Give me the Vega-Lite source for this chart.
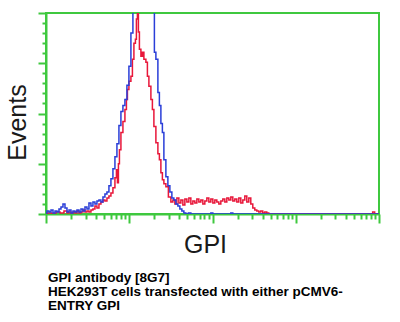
{
  "$schema": "https://vega.github.io/schema/vega-lite/v6.json",
  "width": 333,
  "height": 201,
  "autosize": {"type": "none"},
  "padding": {"left": 46, "top": 13, "right": 21, "bottom": 108},
  "background": "white",
  "view": {"stroke": "#3fc83f", "strokeWidth": 2},
  "config": {
    "font": "Liberation Sans",
    "axis": {"domainColor": "#3fc83f", "domainWidth": 2, "tickColor": "#3fc83f", "tickWidth": 2, "labels": false, "grid": false, "titleFont": "Liberation Sans", "titleFontWeight": "normal", "titleFontSize": 25, "titleColor": "#1a1a1a"}
  },
  "title": {
    "text": ["GPI antibody [8G7]", "HEK293T cells transfected with either pCMV6-", "ENTRY GPI"],
    "orient": "bottom",
    "anchor": "start",
    "frame": "group",
    "dx": 2,
    "offset": 14,
    "font": "Liberation Sans",
    "fontSize": 13.5,
    "fontWeight": "bold",
    "lineHeight": 14,
    "color": "#000000"
  },
  "datasets": {
    "control": [
      {"channel":0,"events":1},{"channel":6,"events":3},{"channel":12,"events":2},{"channel":18,"events":4},{"channel":24,"events":1},{"channel":30,"events":3},{"channel":36,"events":2},{"channel":42,"events":5},{"channel":48,"events":7},{"channel":54,"events":10},{"channel":60,"events":6},{"channel":66,"events":2},{"channel":72,"events":4},{"channel":78,"events":1},{"channel":84,"events":3},{"channel":90,"events":2},{"channel":96,"events":4},{"channel":102,"events":2},{"channel":108,"events":5},{"channel":114,"events":3},{"channel":120,"events":7},{"channel":126,"events":5},{"channel":132,"events":11},{"channel":138,"events":8},{"channel":144,"events":12},{"channel":150,"events":10},{"channel":156,"events":13},{"channel":162,"events":14},{"channel":168,"events":12},{"channel":174,"events":17},{"channel":180,"events":20},{"channel":186,"events":22},{"channel":192,"events":28},{"channel":198,"events":35},{"channel":204,"events":45},{"channel":210,"events":57},{"channel":216,"events":70},{"channel":222,"events":88},{"channel":228,"events":102},{"channel":234,"events":108},{"channel":240,"events":114},{"channel":246,"events":128},{"channel":252,"events":147},{"channel":258,"events":180},{"channel":264,"events":215},{"channel":270,"events":250},{"channel":276,"events":270},{"channel":282,"events":285},{"channel":288,"events":295},{"channel":294,"events":300},{"channel":300,"events":290},{"channel":306,"events":280},{"channel":312,"events":270},{"channel":318,"events":260},{"channel":324,"events":250},{"channel":327,"events":161},{"channel":333,"events":154},{"channel":339,"events":121},{"channel":342,"events":108},{"channel":348,"events":90},{"channel":351,"events":81},{"channel":357,"events":54},{"channel":363,"events":37},{"channel":369,"events":28},{"channel":375,"events":22},{"channel":381,"events":16},{"channel":387,"events":14},{"channel":393,"events":10},{"channel":399,"events":8},{"channel":405,"events":5},{"channel":411,"events":3},{"channel":417,"events":1},{"channel":423,"events":0},{"channel":432,"events":1},{"channel":438,"events":0},{"channel":492,"events":0},{"channel":498,"events":1},{"channel":504,"events":0},{"channel":552,"events":0},{"channel":558,"events":1},{"channel":564,"events":0},{"channel":1000,"events":0}
    ],
    "gpi": [
      {"channel":0,"events":0},{"channel":12,"events":1},{"channel":24,"events":0},{"channel":36,"events":2},{"channel":48,"events":1},{"channel":60,"events":3},{"channel":66,"events":1},{"channel":72,"events":2},{"channel":78,"events":0},{"channel":84,"events":2},{"channel":90,"events":1},{"channel":96,"events":3},{"channel":102,"events":1},{"channel":108,"events":2},{"channel":114,"events":4},{"channel":120,"events":2},{"channel":126,"events":3},{"channel":132,"events":2},{"channel":138,"events":4},{"channel":144,"events":5},{"channel":150,"events":8},{"channel":156,"events":6},{"channel":162,"events":10},{"channel":168,"events":12},{"channel":174,"events":14},{"channel":180,"events":13},{"channel":186,"events":16},{"channel":192,"events":18},{"channel":198,"events":21},{"channel":204,"events":26},{"channel":210,"events":36},{"channel":213,"events":44},{"channel":216,"events":31},{"channel":219,"events":50},{"channel":222,"events":64},{"channel":228,"events":81},{"channel":234,"events":92},{"channel":240,"events":104},{"channel":243,"events":114},{"channel":246,"events":124},{"channel":252,"events":132},{"channel":258,"events":137},{"channel":261,"events":154},{"channel":267,"events":170},{"channel":270,"events":174},{"channel":273,"events":194},{"channel":276,"events":230},{"channel":279,"events":181},{"channel":282,"events":164},{"channel":288,"events":157},{"channel":291,"events":161},{"channel":297,"events":154},{"channel":303,"events":151},{"channel":306,"events":137},{"channel":312,"events":127},{"channel":318,"events":114},{"channel":321,"events":104},{"channel":327,"events":87},{"channel":333,"events":71},{"channel":339,"events":60},{"channel":342,"events":54},{"channel":348,"events":41},{"channel":351,"events":34},{"channel":357,"events":30},{"channel":363,"events":27},{"channel":372,"events":17},{"channel":378,"events":12},{"channel":384,"events":14},{"channel":390,"events":10},{"channel":396,"events":16},{"channel":402,"events":11},{"channel":408,"events":14},{"channel":414,"events":9},{"channel":420,"events":15},{"channel":426,"events":12},{"channel":432,"events":16},{"channel":438,"events":10},{"channel":444,"events":13},{"channel":450,"events":11},{"channel":456,"events":15},{"channel":462,"events":12},{"channel":468,"events":14},{"channel":474,"events":10},{"channel":480,"events":13},{"channel":486,"events":16},{"channel":492,"events":12},{"channel":498,"events":15},{"channel":504,"events":11},{"channel":510,"events":14},{"channel":516,"events":12},{"channel":522,"events":10},{"channel":528,"events":13},{"channel":534,"events":15},{"channel":540,"events":12},{"channel":546,"events":16},{"channel":552,"events":14},{"channel":558,"events":17},{"channel":564,"events":13},{"channel":570,"events":15},{"channel":576,"events":12},{"channel":582,"events":16},{"channel":588,"events":11},{"channel":594,"events":14},{"channel":600,"events":18},{"channel":606,"events":12},{"channel":612,"events":16},{"channel":618,"events":10},{"channel":624,"events":6},{"channel":630,"events":4},{"channel":636,"events":3},{"channel":642,"events":2},{"channel":648,"events":3},{"channel":654,"events":1},{"channel":660,"events":2},{"channel":666,"events":1},{"channel":672,"events":0},{"channel":978,"events":0},{"channel":984,"events":2},{"channel":990,"events":0},{"channel":1000,"events":0}
    ]
  },
  "encoding": {
    "x": {
      "field": "channel", "type": "quantitative",
      "scale": {"domain": [0, 1000], "nice": false, "zero": false},
      "axis": {
        "values": [0,75.3,119.3,150.5,174.7,194.5,211.3,225.8,238.6,250,325.3,369.3,400.5,424.7,444.5,461.3,475.8,488.6,500,575.3,619.3,650.5,674.7,694.5,711.3,725.8,738.6,750,825.3,869.3,900.5,924.7,944.5,961.3,975.8,988.6,1000],
        "tickSize": {"condition": {"test": "datum.value % 250 == 0", "value": 9}, "value": 5},
        "title": "GPI",
        "titleX": 159,
        "titleY": 38,
        "titleBaseline": "alphabetic",
        "titleAlign": "center"
      }
    },
    "y": {
      "field": "events", "type": "quantitative",
      "scale": {"domain": [0, 200], "nice": false},
      "axis": {
        "values": [0,10,20,30,40,50,60,70,80,90,100,110,120,130,140,150,160,170,180,190,200],
        "tickSize": {"condition": {"test": "datum.value % 50 == 0", "value": 8}, "value": 4},
        "title": "Events",
        "titleAngle": -90,
        "titleX": -21,
        "titleY": 109,
        "titleBaseline": "alphabetic",
        "titleAlign": "center"
      }
    }
  },
  "layer": [
    {
      "data": {"name": "gpi"},
      "mark": {"type": "line", "interpolate": "step", "color": "#e8173a", "strokeWidth": 1.5, "clip": true}
    },
    {
      "data": {"name": "control"},
      "mark": {"type": "line", "interpolate": "step", "color": "#2a3ed8", "strokeWidth": 1.5, "clip": true}
    }
  ]
}
